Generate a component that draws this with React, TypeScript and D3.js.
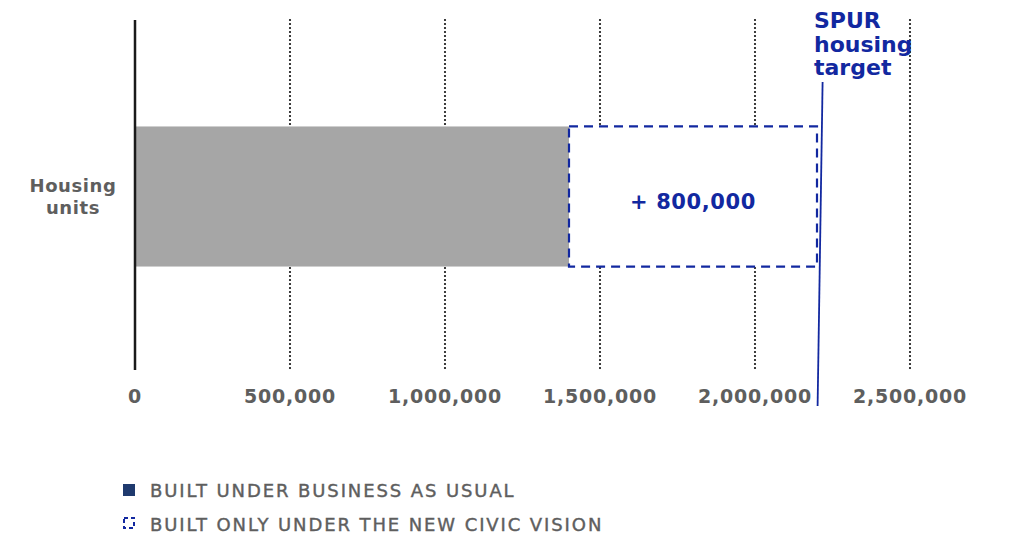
import React from "react";
import * as d3 from "d3";

const categories = ["Housing units"];
const businessAsUsual = [1400000];
const civicVisionExtra = [800000];
const spurTarget = 2210000;
const xTicks = [0, 500000, 1000000, 1500000, 2000000, 2500000];
const legendItems = ["BUILT UNDER BUSINESS AS USUAL", "BUILT ONLY UNDER THE NEW CIVIC VISION"];
const targetLabel = ["SPUR", "housing", "target"];

const W = 1014, H = 536;
const FONT = "'DejaVu Sans', sans-serif";
const BLUE = "#1228a0";
const GRAY_TXT = "#5e5e5e";

export default function App() {
  const x = d3.scaleLinear().domain([0, 2500000]).range([135, 910]);
  const y = d3.scaleBand().domain(categories).range([20, 373]).paddingInner(0).paddingOuter(0.76);
  const fmt = d3.format(",");
  const cat = categories[0];
  const y0 = y(cat)!;
  const bh = y.bandwidth();
  const bau = businessAsUsual[0];
  const extra = civicVisionExtra[0];
  return (
    <svg width={W} height={H} style={{ position: "absolute", left: 0, top: 0, background: "#fff" }}>
      {/* grid */}
      {xTicks.slice(1).map((t) => (
        <line key={t} x1={x(t)} x2={x(t)} y1={20} y2={370} stroke="#111" strokeWidth={2.2}
          strokeDasharray="0 4" strokeLinecap="round" />
      ))}
      {/* bars */}
      <rect x={x(0)} y={y0} width={x(bau) - x(0)} height={bh} fill="#a6a6a6" />
      <rect x={x(bau)} y={y0} width={x(bau + extra) - x(bau)} height={bh} fill="#fff"
        stroke={BLUE} strokeWidth={2.2} strokeDasharray="9 6" />
      <text x={(x(bau) + x(bau + extra)) / 2} y={y0 + bh / 2 + 12} textAnchor="middle"
        fontFamily={FONT} fontWeight={700} fontSize={21} letterSpacing={0.6} fill={BLUE}>+ {fmt(extra)}</text>
      {/* axis line */}
      <line x1={x(0)} x2={x(0)} y1={20} y2={370} stroke="#1a1a1a" strokeWidth={2.5} />
      {/* category label */}
      {cat.split(" ").map((w, i) => (
        <text key={w} x={73} y={y0 + bh / 2 - 5 + i * 22} textAnchor="middle" fontFamily={FONT}
          fontWeight={700} fontSize={18} letterSpacing={0.6} fill={GRAY_TXT}>{w}</text>
      ))}
      {/* tick labels */}
      {xTicks.map((t) => (
        <text key={t} x={x(t)} y={403} textAnchor="middle" fontFamily={FONT} fontWeight={700}
          fontSize={19} letterSpacing={0.8} fill={GRAY_TXT}>{fmt(t)}</text>
      ))}
      {/* target */}
      <line x1={x(spurTarget) + 2.5} x2={x(spurTarget) - 2.5} y1={82} y2={406} stroke={BLUE} strokeWidth={1.8} />
      {targetLabel.map((s, i) => (
        <text key={s} x={814} y={28 + i * 23.5} fontFamily={FONT} fontWeight={700} fontSize={22}
          fill={BLUE}>{s}</text>
      ))}
      {/* legend */}
      <rect x={123} y={484} width={12} height={12} fill="#1f3a6e" />
      <text x={150} y={497} fontFamily={FONT} fontWeight={400} fontSize={18} letterSpacing={1.9}
        fill={GRAY_TXT} stroke={GRAY_TXT} strokeWidth={0.4}>{legendItems[0]}</text>
      <rect x={124} y={518} width={10} height={10} fill="none" stroke={BLUE} strokeWidth={2} strokeDasharray="4 3" />
      <text x={150} y={531} fontFamily={FONT} fontWeight={400} fontSize={18} letterSpacing={1.9}
        fill={GRAY_TXT} stroke={GRAY_TXT} strokeWidth={0.4}>{legendItems[1]}</text>
    </svg>
  );
}
